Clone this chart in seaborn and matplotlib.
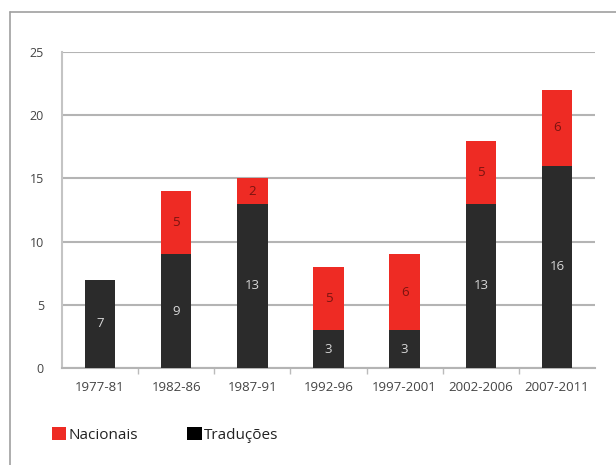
import numpy as np
import pandas as pd
import matplotlib
matplotlib.use('Agg')
import matplotlib.pyplot as plt
import seaborn as sns
from matplotlib.patches import Patch
from matplotlib.lines import Line2D

# dados
periodos = ['1977-81', '1982-86', '1987-91', '1992-96', '1997-2001', '2002-2006', '2007-2011']
traducoes = [7, 9, 13, 3, 3, 13, 16]
nacionais = [0, 5, 2, 5, 6, 5, 6]

cor_nac = '#ee2b24'
cor_trad = '#2b2b2b'

sns.set_style('white')
plt.rcParams['font.family'] = ['Open Sans', 'DejaVu Sans']

df = pd.DataFrame({'periodo': periodos, 'trad': traducoes, 'nac': nacionais})
df['total'] = df['trad'] + df['nac']

fig = plt.figure(figsize=(6.16, 4.65), dpi=100)
ax = fig.add_axes([0.1006, 0.2086, 0.8654, 0.6794])

# total (vermelho) por baixo, traducoes (preto) por cima
sns.barplot(data=df, x='periodo', y='total', color=cor_nac, width=0.4,
            saturation=1, linewidth=0, ax=ax, zorder=3)
sns.barplot(data=df, x='periodo', y='trad', color=cor_trad, width=0.4,
            saturation=1, linewidth=0, ax=ax, zorder=3)

# rotulos dentro das barras
for i, (t, n) in enumerate(zip(traducoes, nacionais)):
    if t > 0:
        ax.text(i, t / 2, str(t), ha='center', va='center', color='#d8d8d8',
                fontsize=9.5, zorder=5)
    if n > 0:
        ax.text(i, t + n / 2, str(n), ha='center', va='center', color='#7a1410',
                fontsize=9.5, zorder=5)

ax.set_ylim(0, 25)
ax.set_xlim(-0.5, len(periodos) - 0.5)
ax.set_yticks(range(0, 26, 5))
ax.set_xticks(np.arange(len(periodos) - 1) + 0.5, minor=True)
ax.yaxis.grid(True, color='#b4b4b4', linewidth=1.5, zorder=0)
ax.set_axisbelow(True)
ax.set_xlabel('')
ax.set_ylabel('')

for s in ['top', 'right']:
    ax.spines[s].set_visible(False)
ax.spines['left'].set_color('#c4c4c4')
ax.spines['left'].set_linewidth(1.5)
ax.spines['bottom'].set_color('#b4b4b4')
ax.spines['bottom'].set_linewidth(1.5)

ax.tick_params(axis='y', which='major', length=5, width=1.5, color='#b4b4b4',
               labelsize=9, labelcolor='#444444', pad=8)
ax.tick_params(axis='x', which='major', length=0, labelsize=9.5,
               labelcolor='#444444', pad=9)
ax.tick_params(axis='x', which='minor', length=4, width=1, color='#bbbbbb',
               direction='out', bottom=True)

# legenda
handles = [Patch(facecolor=cor_nac, edgecolor='none'),
           Patch(facecolor='#000000', edgecolor='none')]
fig.legend(handles, ['Nacionais', 'Traduções'], loc='center left',
           bbox_to_anchor=(0.062, 0.064), ncol=2, frameon=False,
           fontsize=11, handlelength=0.95, handleheight=0.95,
           handletextpad=0.15, columnspacing=3.2, labelcolor='#222222')

# moldura
fig.add_artist(Line2D([10 / 616, 1.0], [1 - 12 / 465, 1 - 12 / 465],
                      color='#a0a0a0', linewidth=1.2))
fig.add_artist(Line2D([10 / 616, 10 / 616], [0.0, 1 - 12 / 465],
                      color='#a0a0a0', linewidth=1.2))

fig.savefig('out.png', dpi=100)
